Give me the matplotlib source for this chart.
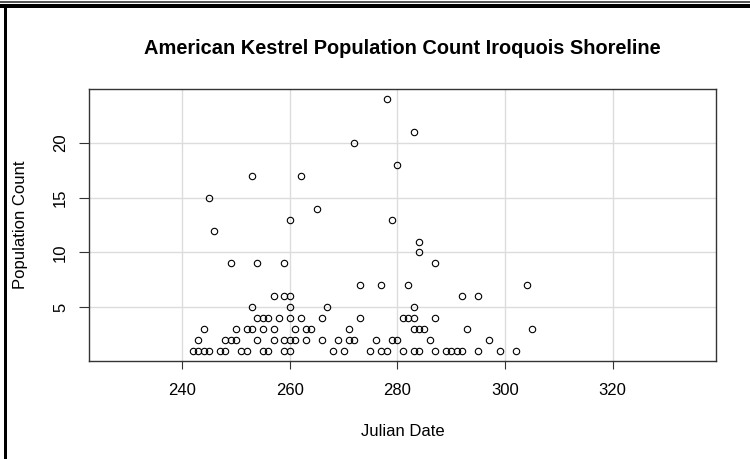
import matplotlib
matplotlib.use('Agg')
import matplotlib.pyplot as plt
from matplotlib.patches import Rectangle

plt.rcParams['font.family'] = ['Liberation Sans', 'DejaVu Sans']

# survey days (julian) and kestrel counts, one line per count value
julian_date = [
    242, 243, 244, 245, 247, 248, 251, 252, 255, 256, 259, 260, 268, 270,
    275, 277, 278, 281, 283, 284, 287, 289, 290, 291, 292, 295, 299, 302,
    243, 248, 249, 250, 254, 257, 259, 260, 261, 263, 266, 269, 271, 272,
    276, 279, 280, 286, 297,
    244, 250, 252, 253, 255, 257, 261, 263, 264, 271, 283, 284, 285, 293, 305,
    254, 255, 256, 258, 260, 262, 266, 273, 281, 282, 283, 287,
    253, 260, 267, 283,
    257, 259, 260, 292, 295,
    273, 277, 282, 304,
    249, 254, 259, 287,
    284,
    284,
    246,
    260, 279,
    265,
    245,
    253, 262,
    280,
    272,
    283,
    278,
]
population_count = (
    [1] * 28 + [2] * 19 + [3] * 15 + [4] * 12 + [5] * 4 + [6] * 5 + [7] * 4
    + [9] * 4 + [10] + [11] + [12] + [13] * 2 + [14] + [15] + [17] * 2
    + [18] + [20] + [21] + [24]
)

x_ticks = [240, 260, 280, 300, 320]
y_ticks = [5, 10, 15, 20]

W, H = 750, 459
fig = plt.figure(figsize=(W / 100, H / 100), dpi=100)
ax = fig.add_axes([89 / W, 1 - 361 / H, (716 - 89) / W, (361 - 89.3) / H])

ax.plot(julian_date, population_count, 'o', mfc='none', mec='black',
        ms=4.6, mew=0.8, zorder=3)

ax.set_xlim(222.7, 339.2)
ax.set_ylim(0.08, 24.92)
ax.set_xticks(x_ticks)
ax.set_yticks(y_ticks)
ax.grid(True, color='#dcdcdc', lw=1)
ax.set_axisbelow(True)

for s in ax.spines.values():
    s.set_color('#333333')
    s.set_linewidth(1)

ax.tick_params(axis='x', length=6, width=0.8, color='#333333', labelsize=12, pad=10)
ax.tick_params(axis='y', length=7.2, width=0.8, color='#333333', labelsize=12, pad=7.8)
plt.setp(ax.get_yticklabels(), rotation=90, va='center')

ax.set_title('American Kestrel Population Count Iroquois Shoreline',
             fontsize=14.4, fontweight='bold', y=1 + (89.3 - 49) / 271.7,
             va='center', pad=0)
ax.set_xlabel('Julian Date', fontsize=12, va='center')
ax.xaxis.set_label_coords(0.5, -(432 - 361) / 271.7)
ax.set_ylabel('Population Count', fontsize=12, va='center')
ax.yaxis.set_label_coords((20.5 - 89) / 627, 0.5)

# window frame around the graphics device
fig.add_artist(Rectangle((0, 1 - 3 / H), 1, 2 / H, transform=fig.transFigure,
                         color='#555555', lw=0))
fig.add_artist(Rectangle((0, 1 - 7.5 / H), 1, 3.5 / H, transform=fig.transFigure,
                         color='black', lw=0))
fig.add_artist(Rectangle((4 / W, 0), 3 / W, 1 - 7 / H, transform=fig.transFigure,
                         color='black', lw=0))

fig.savefig('out.png', dpi=100)
